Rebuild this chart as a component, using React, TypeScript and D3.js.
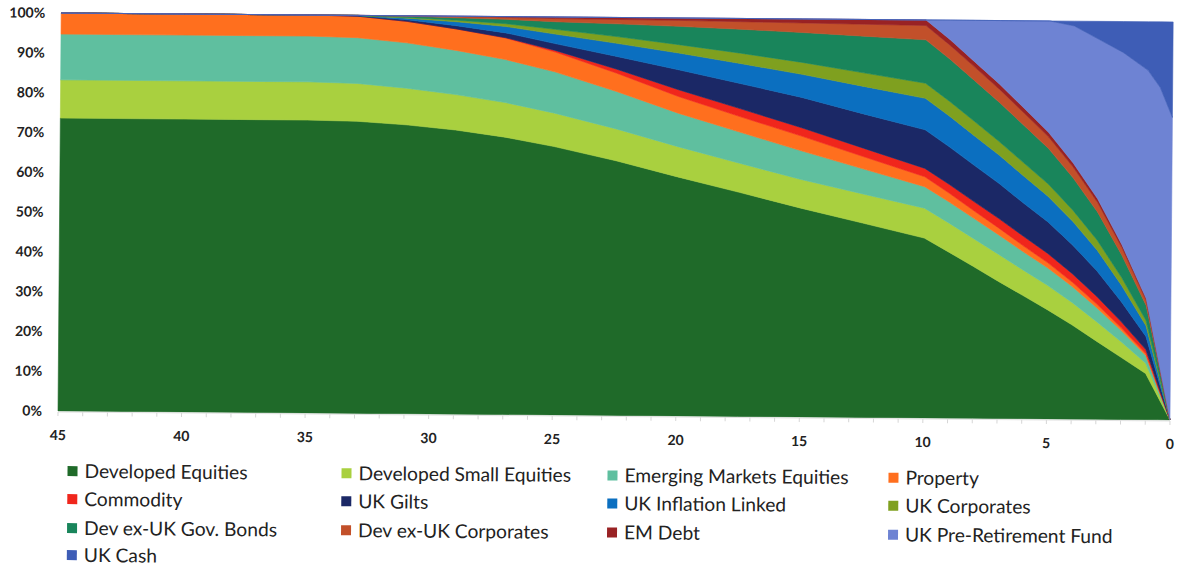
import React from "react";
import * as d3 from "d3";

const years = [45, 40, 35, 33, 31, 29, 27, 25, 22.5, 20, 17.5, 15, 12.5, 10, 9, 8, 7, 6, 5, 4, 3, 2, 1, 0.5, 0];

const developedEquities = [73.6, 73.6, 73.6, 73.4, 72.6, 71.4, 69.7, 67.5, 64.0, 60.0, 56.2, 52.4, 48.8, 45.2, 41.7, 38.1, 34.5, 31.0, 27.4, 23.6, 19.6, 15.6, 11.6, 5.8, 0];
const developedSmallEquities = [9.6, 9.6, 9.6, 9.5, 9.2, 8.9, 8.7, 8.4, 8.0, 7.6, 7.3, 7.2, 7.3, 7.5, 7.3, 7.0, 6.8, 6.4, 6.1, 5.6, 4.9, 3.9, 2.6, 1.3, 0];
const emergingMarketsEquities = [11.5, 11.5, 11.5, 11.5, 11.4, 11.1, 10.8, 10.4, 9.4, 8.4, 7.8, 7.2, 6.3, 5.4, 5.3, 5.1, 4.9, 4.6, 4.4, 4.0, 3.5, 2.8, 1.9, 0.9, 0];
const property = [5.3, 5.3, 5.3, 5.4, 5.4, 5.4, 5.4, 5.0, 4.6, 4.2, 3.9, 3.7, 3.1, 2.5, 2.2, 1.9, 1.7, 1.5, 1.3, 1.1, 0.9, 0.7, 0.5, 0.25, 0];
const commodity = [0, 0, 0, 0, 0, 0, 0.1, 0.4, 1.0, 1.7, 2.0, 2.1, 2.1, 2.1, 2.2, 2.3, 2.4, 2.4, 2.3, 2.1, 1.9, 1.5, 1.0, 0.5, 0];
const ukGilts = [0, 0, 0, 0.1, 0.4, 0.8, 1.2, 1.7, 3.2, 5.0, 6.3, 7.6, 8.6, 9.7, 9.4, 9.1, 8.8, 8.3, 7.9, 7.2, 6.4, 5.0, 3.3, 1.7, 0];
const ukInflationLinked = [0, 0, 0, 0.1, 0.4, 1.0, 1.6, 2.4, 3.3, 4.2, 5.0, 5.8, 6.9, 7.9, 7.7, 7.4, 7.1, 6.8, 6.4, 5.9, 5.2, 4.1, 2.7, 1.4, 0];
const ukCorporates = [0, 0, 0, 0, 0.2, 0.4, 0.7, 1.2, 1.7, 2.1, 2.6, 3.0, 3.4, 3.8, 3.7, 3.6, 3.4, 3.3, 3.1, 2.8, 2.5, 2.0, 1.3, 0.7, 0];
const devExUkGovBonds = [0, 0, 0, 0, 0.3, 0.6, 1.1, 1.9, 3.2, 4.6, 6.0, 7.5, 9.2, 10.9, 10.6, 10.2, 9.8, 9.4, 8.9, 8.1, 7.1, 5.6, 3.8, 1.9, 0];
const devExUkCorporates = [0, 0, 0, 0, 0.1, 0.3, 0.5, 0.8, 1.1, 1.5, 1.9, 2.4, 3.0, 3.6, 3.5, 3.4, 3.3, 3.1, 2.9, 2.7, 2.4, 1.9, 1.2, 0.6, 0];
const emDebt = [0, 0, 0, 0, 0, 0.1, 0.2, 0.4, 0.5, 0.6, 0.8, 1.0, 1.2, 1.4, 1.4, 1.3, 1.3, 1.2, 1.1, 1.0, 0.9, 0.7, 0.5, 0.2, 0];
const ukPreRetirementFund = [0, 0, 0, 0, 0, 0, 0, 0, 0, 0, 0, 0, 0, 0, 5, 10.5, 16, 22, 28, 34.3, 40, 48.2, 57.3, 68.2, 76];
const ukCash = [0, 0, 0, 0, 0, 0, 0, 0, 0, 0, 0, 0, 0, 0, 0, 0, 0, 0, 0, 1.2, 4.5, 7.8, 12.2, 16.5, 24];

const seriesNames = [
  "Developed Equities",
  "Developed Small Equities",
  "Emerging Markets Equities",
  "Property",
  "Commodity",
  "UK Gilts",
  "UK Inflation Linked",
  "UK Corporates",
  "Dev ex-UK Gov. Bonds",
  "Dev ex-UK Corporates",
  "EM Debt",
  "UK Pre-Retirement Fund",
  "UK Cash",
];
const seriesValues = [
  developedEquities,
  developedSmallEquities,
  emergingMarketsEquities,
  property,
  commodity,
  ukGilts,
  ukInflationLinked,
  ukCorporates,
  devExUkGovBonds,
  devExUkCorporates,
  emDebt,
  ukPreRetirementFund,
  ukCash,
];
const seriesColors = [
  "#1f6a29",
  "#a9d03f",
  "#5fbf9f",
  "#ff6f1e",
  "#f0261c",
  "#1b2866",
  "#0b6fc0",
  "#7fa01f",
  "#19855b",
  "#c2502a",
  "#992224",
  "#6e83d3",
  "#3e5db6",
];

const xTicks = [45, 40, 35, 30, 25, 20, 15, 10, 5, 0];
const yTicks = [0, 0.1, 0.2, 0.3, 0.4, 0.5, 0.6, 0.7, 0.8, 0.9, 1];
const minorTicks = d3.range(0, 46, 1);

export default function App() {
  const W = 1179;
  const H = 571;
  const x0 = 58, x1 = 1170, yBottom = 411, yTop = 13;

  const x = d3.scaleLinear().domain([45, 0]).range([x0, x1]);
  const y = d3.scaleLinear().domain([0, 1]).range([yBottom, yTop]);

  const rows = years.map((yr, i) => {
    const r: any = { year: yr };
    seriesNames.forEach((n, k) => (r[n] = seriesValues[k][i]));
    return r;
  });

  const stack = d3.stack<any>().keys(seriesNames).offset(d3.stackOffsetExpand);
  const layers = stack(rows);

  const area = d3
    .area<any>()
    .x((d) => x(d.data.year))
    .y0((d) => y(d[0]))
    .y1((d) => y(d[1]))
    .curve(d3.curveLinear);

  const legendCols = [85, 359, 625, 906];
  const legendRows = [471, 499, 528, 555];

  return (
    <svg
      width={W}
      height={H}
      style={{ position: "absolute", left: 0, top: 0, background: "#fff" }}
      fontFamily="Lato, 'Open Sans', sans-serif"
    >
      <rect x={0} y={0} width={W} height={H} fill="#fff" />
      <g transform={`rotate(0.46, ${x0}, ${yBottom})`}>
        {layers.map((layer, k) => (
          <path
            key={seriesNames[k]}
            d={area(layer) || ""}
            fill={seriesColors[k]}
            stroke={seriesColors[k]}
            strokeWidth={0.6}
            strokeLinejoin="round"
          />
        ))}
        <line x1={x0} x2={x1} y1={yBottom + 1} y2={yBottom + 1} stroke="#e2e2e2" strokeWidth={1} />
        {minorTicks.map((t) => (
          <line
            key={"m" + t}
            x1={x(t)}
            x2={x(t)}
            y1={yBottom + 1}
            y2={yBottom + 5}
            stroke="#d6d6d6"
            strokeWidth={1}
          />
        ))}
        {yTicks.map((t) => (
          <text
            key={"y" + t}
            x={42}
            y={y(t)}
            dy="0.35em"
            textAnchor="end"
            fontSize={14}
            fontWeight={700}
            fill="#222"
          >
            {d3.format(".0%")(t)}
          </text>
        ))}
        {xTicks.map((t) => (
          <text
            key={"x" + t}
            x={x(t)}
            y={yBottom + 29}
            textAnchor="middle"
            fontSize={14}
            fontWeight={700}
            fill="#222"
          >
            {t}
          </text>
        ))}
        {seriesNames.map((n, k) => {
          const col = k % 4;
          const row = Math.floor(k / 4);
          const lx = legendCols[col];
          const ly = legendRows[row];
          return (
            <g key={"l" + n} transform={`translate(${lx}, ${ly})`}>
              <rect x={-17} y={-5} width={10} height={10} fill={seriesColors[k]} />
              <text x={0} y={0} dy="0.35em" fontSize={19.2} fill="#222">
                {n}
              </text>
            </g>
          );
        })}
      </g>
    </svg>
  );
}
